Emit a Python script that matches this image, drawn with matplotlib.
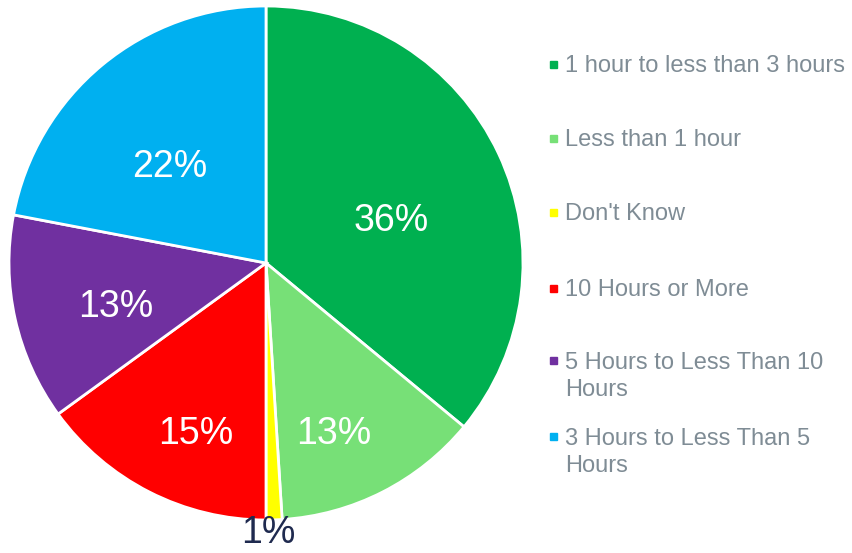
import matplotlib.pyplot as plt
import numpy as np
from matplotlib.patches import Rectangle

plt.rcParams['font.family'] = ['Liberation Sans', 'DejaVu Sans']

# data
categories = ['1 hour to less than 3 hours', 'Less than 1 hour', "Don't Know",
              '10 Hours or More', '5 Hours to Less Than 10\nHours',
              '3 Hours to Less Than 5\nHours']
shares = [36, 13, 1, 15, 13, 22]
colors = ['#00B050', '#77E077', '#FFFF00', '#FF0000', '#7030A0', '#00B0F0']

# label placement per slice (fraction of radius, angle shift in degrees)
label_r = [0.518, 0.70, 1.035, 0.705, 0.604, 0.54]
label_da = [-5, -5, -1.4, 4.3, 2.3, 4.2]
label_c = ['white', 'white', '#1F2A4F', 'white', 'white', 'white']

W, H = 852, 553
fig = plt.figure(figsize=(W / 100, H / 100), dpi=100)

cx, cy, rpx = 266, 263, 257
lim = 1.03
side = 2 * lim * rpx
ax = fig.add_axes([(cx - side / 2) / W, (H - cy - side / 2) / H, side / W, side / H])

wedges, _ = ax.pie(shares, colors=colors, startangle=90, counterclock=False,
                   wedgeprops=dict(edgecolor='white', linewidth=2))
ax.set_xlim(-lim, lim)
ax.set_ylim(-lim, lim)
ax.set_aspect('equal')
ax.axis('off')

for w, v, r, da, c in zip(wedges, shares, label_r, label_da, label_c):
    mid = np.deg2rad((w.theta1 + w.theta2) / 2 + da)
    ax.text(r * np.cos(mid), r * np.sin(mid), f'{v}%', ha='center',
            va='center_baseline', fontsize=27, color=c, clip_on=False)

# legend
leg_y = [64, 138, 212, 288, 360, 436]
for lab, col, y in zip(categories, colors, leg_y):
    fig.patches.append(Rectangle((550 / W, 1 - (y + 4) / H), 7 / W, 7 / H,
                                 transform=fig.transFigure, color=col))
    if '\n' in lab:
        fig.text(565 / W, 1 - (y - 8) / H, lab, ha='left', va='top',
                 fontsize=17, color='#7F8C95', linespacing=1.3)
    else:
        fig.text(565 / W, 1 - y / H, lab, ha='left', va='center_baseline',
                 fontsize=17, color='#7F8C95')

fig.savefig('out.png', dpi=100)
